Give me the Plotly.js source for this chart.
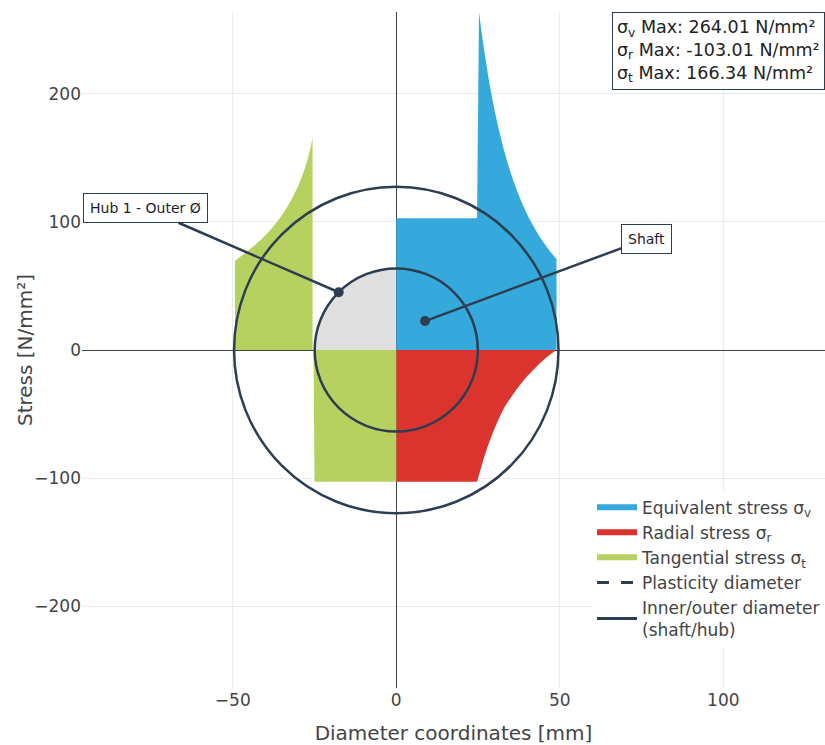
<!DOCTYPE html>
<html>
<head>
<meta charset="utf-8">
<script src="https://cdn.plot.ly/plotly-3.0.1.min.js"></script>
<style>body{margin:0;padding:0;background:#fff;}#chart{width:825px;height:745px;}</style>
</head>
<body>
<div id="chart"></div>
<script>
// ---- data ----
// Equivalent stress (shaft plateau + hub curve), right half
const eqX = [0, 0, 24.7, 25.3, 26, 27, 28, 29, 30, 31, 32, 33, 34, 35, 36, 37, 38, 39, 40, 41, 42, 43, 44, 45, 46, 47, 48, 49, 49];
const eqY = [0, 103, 103, 264, 250, 232, 215.5, 201, 188, 176, 165.5, 155.5, 146.5, 138.3, 130.8, 124, 117.5, 111.6, 106.1, 101.1, 96.4, 92, 87.9, 84.1, 80.5, 77.1, 74, 71, 0];
// Radial stress, right half
const radX = [0, 0, 24.7, 25, 26, 27, 28, 29, 30, 31, 32, 33, 34, 35, 36, 37, 38, 39, 40, 41, 42, 43, 44, 45, 46, 47, 48, 49];
const radY = [0, -103, -103, -100.2, -91.2, -82.6, -74.9, -68.2, -61.8, -55.7, -50.1, -45.1, -41.1, -37.3, -33.6, -30.1, -26.8, -23.6, -20.6, -17.9, -15.2, -12.7, -10.2, -7.8, -5.7, -3.7, -1.8, 0];
// Tangential stress, left half: hub segment, then shaft segment
const tanHubX = [-49.3, -49.3, -48, -47, -46, -45, -44, -43, -42, -41, -40, -39, -38, -37, -36, -35, -34, -33, -32, -31, -30, -29, -28, -27, -26, -25.6, -25.6];
const tanHubY = [0, 69.8, 72.3, 74.2, 76.2, 78.3, 80.4, 82.5, 84.8, 87.1, 89.7, 92.4, 95.3, 98.4, 101.8, 105.3, 109.2, 113.3, 117.8, 122.8, 128.3, 134.5, 141.5, 149.8, 160.3, 166.3, 0];
const tanShaftX = [-25.3, -25.0, 0, 0];
const tanShaftY = [0, -103, -103, 0];
// Diameters (half-extents in axis units): [shaft/inner, hub/outer]
const diamRx = [24.95, 49.6];
const diamRy = [63.7, 127.5];
// Max values box
const maxSubs = ['v', 'r', 't'];
const maxVals = ['264.01', '-103.01', '166.34'];
const yMax = 264.01;
// Label target points
const hubLabelPt = [-17.6, 45.1];
const shaftLabelPt = [8.8, 22.6];

// ---- styles ----
const cBlue = '#35a9dc', cRed = '#db342f', cGreen = '#b6d160', cGrey = '#e0e0e0', cDark = '#2c3e50';
const fam = 'Verdana, "DejaVu Sans", sans-serif';

const traces = [
  {x: eqX, y: eqY, mode: 'none', fill: 'toself', fillcolor: cBlue, name: 'Equivalent stress σ<sub>v</sub>', hoverinfo: 'skip'},
  {x: radX, y: radY, mode: 'none', fill: 'toself', fillcolor: cRed, name: 'Radial stress σ<sub>r</sub>', hoverinfo: 'skip'},
  {x: tanHubX.concat([null], tanShaftX), y: tanHubY.concat([null], tanShaftY), mode: 'none', fill: 'toself', fillcolor: cGreen, name: 'Tangential stress σ<sub>t</sub>', hoverinfo: 'skip'},
  {x: [null], y: [null], mode: 'lines', line: {color: cDark, width: 3, dash: '12px,12px'}, name: 'Plasticity diameter'},
  {x: [null], y: [null], mode: 'lines', line: {color: cDark, width: 3}, name: 'Inner/outer diameter<br>(shaft/hub)'}
];

const shapes = [
  {type: 'circle', xref: 'x', yref: 'y', layer: 'below', x0: -diamRx[0], x1: diamRx[0], y0: -diamRy[0], y1: diamRy[0], fillcolor: cGrey, line: {width: 0}},
  {type: 'circle', xref: 'x', yref: 'y', x0: -diamRx[0], x1: diamRx[0], y0: -diamRy[0], y1: diamRy[0], line: {color: cDark, width: 2.5}},
  {type: 'circle', xref: 'x', yref: 'y', x0: -diamRx[1], x1: diamRx[1], y0: -diamRy[1], y1: diamRy[1], line: {color: cDark, width: 2.5}}
];

const maxText = maxSubs.map((s, i) => 'σ<sub>' + s + '</sub> Max: ' + maxVals[i] + ' N/mm²').join('<br>');

const annotations = [
  {xref: 'paper', yref: 'paper', x: 1, y: 1, xanchor: 'right', yanchor: 'top', showarrow: false, align: 'left',
   text: maxText, font: {family: fam, size: 17.5, color: '#222'}, bgcolor: '#fff', bordercolor: cDark, borderwidth: 1, borderpad: 4},
  {x: hubLabelPt[0], y: hubLabelPt[1], ax: -193.6, ay: -84, text: 'Hub 1 - Outer Ø', showarrow: true, arrowhead: 6, arrowsize: 1, arrowwidth: 2.5, arrowcolor: cDark,
   font: {family: fam, size: 14, color: '#1e1b2e'}, bgcolor: '#fff', bordercolor: cDark, borderwidth: 1, borderpad: 6},
  {x: shaftLabelPt[0], y: shaftLabelPt[1], ax: 221.7, ay: -82.3, text: 'Shaft', showarrow: true, arrowhead: 6, arrowsize: 1, arrowwidth: 2.5, arrowcolor: cDark,
   font: {family: fam, size: 14, color: '#1e1b2e'}, bgcolor: '#fff', bordercolor: cDark, borderwidth: 1, borderpad: 6}
];

const layout = {
  width: 825, height: 745,
  margin: {l: 82, r: 0, t: 12, b: 57},
  paper_bgcolor: '#fff', plot_bgcolor: '#fff',
  font: {family: fam, size: 17, color: '#444'},
  showlegend: true,
  legend: {x: 1, xanchor: 'right', y: 0.2935, yanchor: 'top', bgcolor: '#fff', borderwidth: 0, font: {family: fam, size: 17, color: '#444'}, itemwidth: 40, tracegroupgap: 0},
  xaxis: {range: [-96.1, 131.1], dtick: 50, tick0: 0, showgrid: true, gridcolor: '#ebebeb', zeroline: true, zerolinecolor: '#444', zerolinewidth: 1, showline: false, ticks: '',
          tickfont: {family: fam, size: 17, color: '#444'}, title: {text: 'Diameter coordinates [mm]', font: {family: fam, size: 20, color: '#444'}}},
  yaxis: {range: [-yMax, yMax], dtick: 100, tick0: 0, showgrid: true, gridcolor: '#ebebeb', zeroline: true, zerolinecolor: '#444', zerolinewidth: 1, showline: false, ticks: '',
          tickfont: {family: fam, size: 17, color: '#444'}, title: {text: 'Stress [N/mm²]', font: {family: fam, size: 20, color: '#444'}}},
  shapes: shapes,
  annotations: annotations
};

Plotly.newPlot('chart', traces, layout, {displayModeBar: false, staticPlot: true});
</script>
</body>
</html>
